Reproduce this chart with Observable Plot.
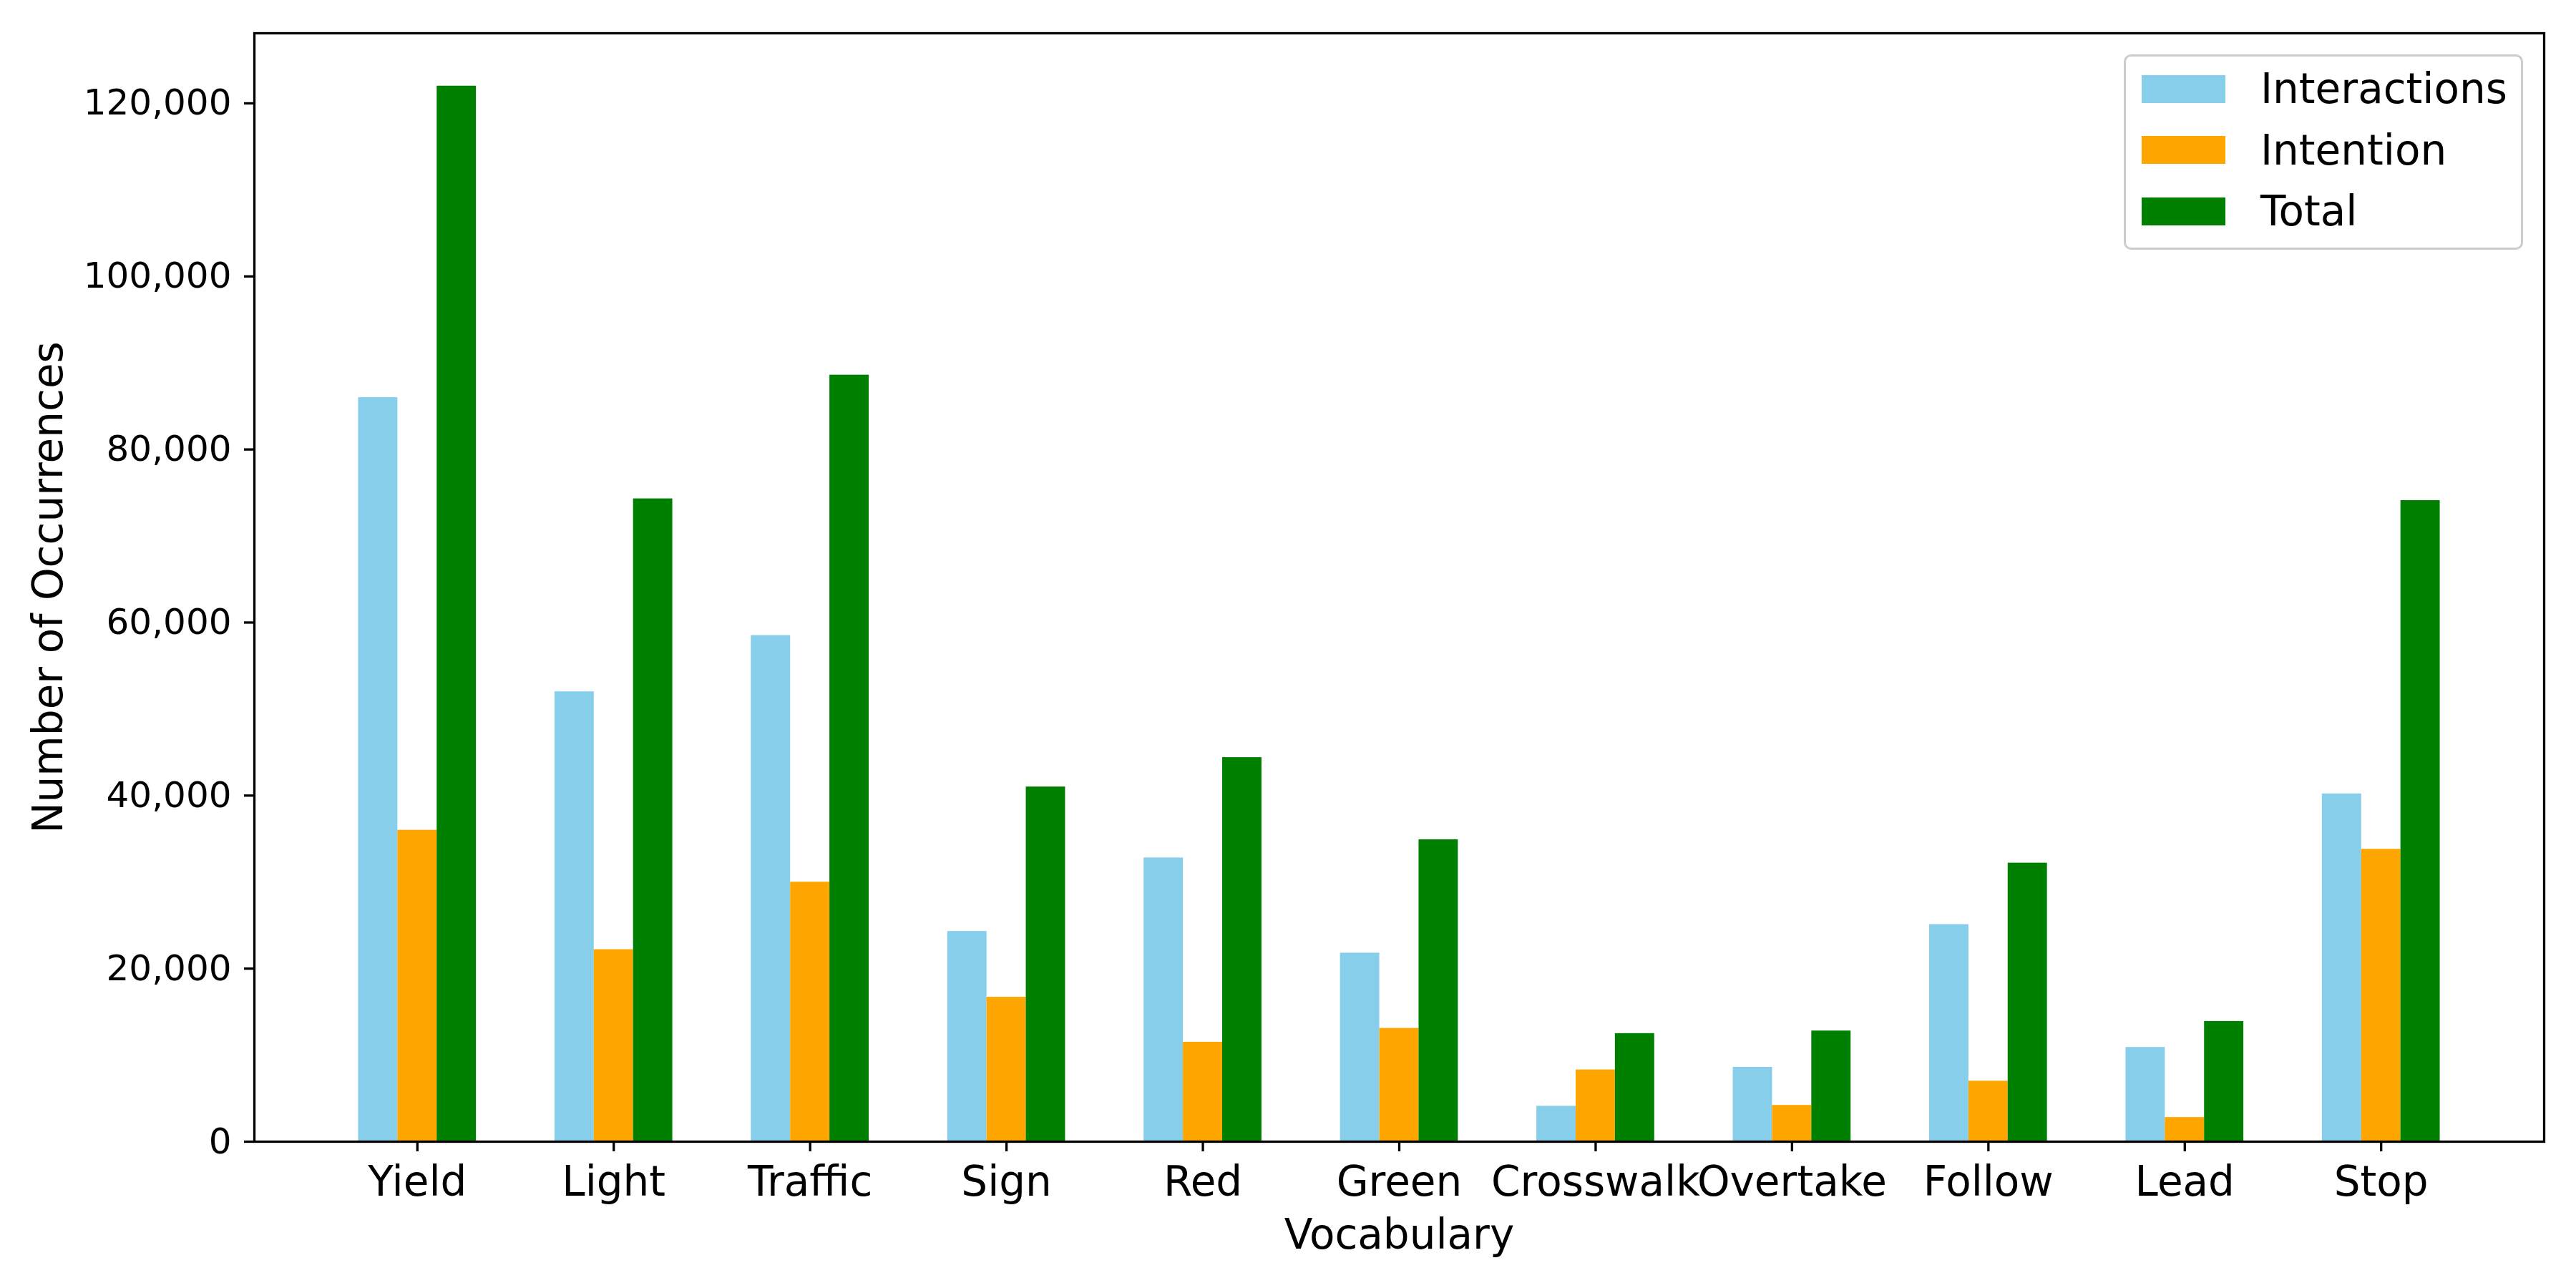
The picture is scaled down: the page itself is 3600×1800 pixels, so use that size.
<!DOCTYPE html>
<html>
<head>
<meta charset="utf-8">
<script src="https://cdn.jsdelivr.net/npm/d3@7"></script>
<script src="https://cdn.jsdelivr.net/npm/@observablehq/plot@0.6"></script>
<style>
  html, body { margin: 0; padding: 0; background: #fff; }
  #wrap { position: relative; width: 3600px; height: 1800px; font-family: "DejaVu Sans", sans-serif; }
  #legend {
    position: absolute; left: 2968px; top: 76px; width: 558px; height: 273px;
    border: 3px solid #cccccc; border-radius: 10px; background: rgba(255,255,255,0.8);
    box-sizing: border-box;
  }
  .item { position: absolute; left: 22px; height: 40px; display: flex; align-items: center; }
  .swatch { width: 117px; height: 39px; display: inline-block; }
  .lab { font-size: 58px; margin-left: 49px; line-height: 1; color: #000; white-space: nowrap; }
</style>
</head>
<body>
<div id="wrap"></div>
<script>
const categories = ["Yield", "Light", "Traffic", "Sign", "Red", "Green", "Crosswalk", "Overtake", "Follow", "Lead", "Stop"];
const series = ["Interactions", "Intention", "Total"];
const colors = ["#87CEEB", "#FFA500", "#008000"];
const interactions = [86000, 52000, 58500, 24300, 32800, 21800, 4100, 8600, 25100, 10900, 40200];
const intention = [36000, 22200, 30000, 16700, 11500, 13100, 8300, 4200, 7000, 2800, 33800];
const total = [122000, 74300, 88600, 41000, 44400, 34900, 12500, 12800, 32200, 13900, 74100];
const yTicks = [0, 20000, 40000, 60000, 80000, 100000, 120000];

// grouped-bar layout in category units (like matplotlib's x ± width)
const barWidth = 0.2;
const offsets = [-barWidth, 0, barWidth];

const valuesBySeries = [interactions, intention, total];
const rows = [];
categories.forEach((c, i) => {
  series.forEach((s, j) => rows.push({
    category: c, index: i, series: s, value: valuesBySeries[j][i],
    x1: i + offsets[j] - barWidth / 2, x2: i + offsets[j] + barWidth / 2
  }));
});
const n = categories.length;
const pad = (n - 1 + 3 * barWidth) * 0.05;
const xDomain = [-1.5 * barWidth - pad, n - 1 + 1.5 * barWidth + pad];
const yMax = d3.max(total) * 1.05;

const chart = Plot.plot({
  width: 3600,
  height: 1800,
  marginLeft: 355,
  marginRight: 45,
  marginTop: 46,
  marginBottom: 205,
  style: {fontFamily: "DejaVu Sans, sans-serif", background: "#fff", color: "#000"},
  x: {domain: xDomain},
  y: {domain: [0, yMax]},
  color: {domain: series, range: colors},
  marks: [
    Plot.rectY(rows, {x1: "x1", x2: "x2", y: "value", fill: "series"}),
    Plot.axisY({ticks: yTicks, tickFormat: d3.format(","), tickSize: 14, tickPadding: 18,
      fontSize: 50, strokeWidth: 3.3, label: "Number of Occurrences", labelArrow: "none",
      labelAnchor: "center", labelOffset: 310}),
    Plot.axisX({ticks: d3.range(n), tickFormat: i => categories[i], tickSize: 14, tickPadding: 20,
      fontSize: 58, strokeWidth: 3.3, label: "Vocabulary", labelArrow: "none",
      labelAnchor: "center", labelOffset: 149}),
    Plot.frame({stroke: "#000", strokeWidth: 3.3})
  ]
});

d3.select(chart).selectAll('[aria-label="y-axis label"], [aria-label="x-axis label"]').attr("font-size", 58);

const wrap = document.getElementById("wrap");
wrap.appendChild(chart);

const legend = document.createElement("div");
legend.id = "legend";
series.forEach((s, j) => {
  const item = document.createElement("div");
  item.className = "item";
  item.style.top = (25 + j * 85.5) + "px";
  const sw = document.createElement("span");
  sw.className = "swatch";
  sw.style.background = colors[j];
  const lab = document.createElement("span");
  lab.className = "lab";
  lab.textContent = s;
  item.appendChild(sw);
  item.appendChild(lab);
  legend.appendChild(item);
});
wrap.appendChild(legend);
</script>
</body>
</html>
